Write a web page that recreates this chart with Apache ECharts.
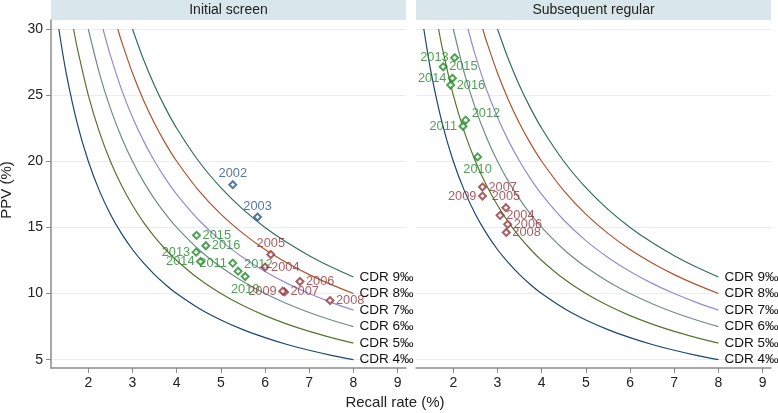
<!DOCTYPE html>
<html><head><meta charset="utf-8">
<script src="https://cdn.jsdelivr.net/npm/echarts@6/dist/echarts.min.js"></script>
<style>html,body{margin:0;padding:0;background:#fff}#c{width:778px;height:413px}</style>
</head><body><div id="c"></div>
<script>
// ---- data ----
const panelTitles = ['Initial screen', 'Subsequent regular'];
const cdrLabels = ['CDR 4‰', 'CDR 5‰', 'CDR 6‰', 'CDR 7‰', 'CDR 8‰', 'CDR 9‰'];
// iso-CDR curves: [recall %, PPV %]
const cdr4Curve = [[1.333,30],[1.5,26.67],[1.75,22.86],[2,20],[2.25,17.78],[2.5,16],[2.75,14.55],[3,13.33],[3.25,12.31],[3.5,11.43],[3.75,10.67],[4,10],[4.5,8.89],[5,8],[5.5,7.27],[6,6.67],[6.5,6.15],[7,5.71],[7.5,5.33],[8,5]];
const cdr5Curve = [[1.667,30],[1.75,28.57],[2,25],[2.25,22.22],[2.5,20],[2.75,18.18],[3,16.67],[3.25,15.38],[3.5,14.29],[3.75,13.33],[4,12.5],[4.5,11.11],[5,10],[5.5,9.09],[6,8.33],[6.5,7.69],[7,7.14],[7.5,6.67],[8,6.25]];
const cdr6Curve = [[2,30],[2.25,26.67],[2.5,24],[2.75,21.82],[3,20],[3.25,18.46],[3.5,17.14],[3.75,16],[4,15],[4.5,13.33],[5,12],[5.5,10.91],[6,10],[6.5,9.23],[7,8.57],[7.5,8],[8,7.5]];
const cdr7Curve = [[2.333,30],[2.5,28],[2.75,25.45],[3,23.33],[3.25,21.54],[3.5,20],[3.75,18.67],[4,17.5],[4.5,15.56],[5,14],[5.5,12.73],[6,11.67],[6.5,10.77],[7,10],[7.5,9.33],[8,8.75]];
const cdr8Curve = [[2.667,30],[2.75,29.09],[3,26.67],[3.25,24.62],[3.5,22.86],[3.75,21.33],[4,20],[4.5,17.78],[5,16],[5.5,14.55],[6,13.33],[6.5,12.31],[7,11.43],[7.5,10.67],[8,10]];
const cdr9Curve = [[3,30],[3.25,27.69],[3.5,25.71],[3.75,24],[4,22.5],[4.5,20],[5,18],[5.5,16.36],[6,15],[6.5,13.85],[7,12.86],[7.5,12],[8,11.25]];
const curves = [cdr4Curve, cdr5Curve, cdr6Curve, cdr7Curve, cdr8Curve, cdr9Curve];

const initYears  = ['2002','2003','2004','2005','2006','2007','2008','2009','2010','2011','2012','2013','2014','2015','2016'];
const initRecall = [5.27, 5.83, 6.00, 6.13, 6.79, 6.44, 7.47, 6.40, 5.55, 5.27, 5.39, 4.44, 4.54, 4.45, 4.66];
const initPPV    = [18.23,15.78,12.00,12.95,10.91,10.12, 9.47,10.18,11.29,12.30,11.69,13.13,12.42,14.40,13.61];

const subsYears  = ['2004','2005','2006','2007','2008','2009','2010','2011','2012','2013','2014','2015','2016'];
const subsRecall = [3.06, 3.19, 3.23, 2.66, 3.20, 2.66, 2.55, 2.22, 2.28, 2.03, 1.98, 1.77, 1.94];
const subsPPV    = [15.91,16.49,15.23,18.05,14.62,17.37,20.33,22.65,23.11,27.83,26.27,27.14,25.76];

const xTicks = [2,3,4,5,6,7,8,9];
const yTicks = [5,10,15,20,25,30];

// ---- styles ----
const FONT = 'Liberation Sans, Arial, sans-serif';
const curveColors = ['#1a476f', '#55752f', '#6e8e84', '#938dd2', '#b0532e', '#33705f'];
function yearColor(y) {
  const n = +y;
  if (n <= 2003) return '#2b5585';
  if (n <= 2009) return '#93363c';
  return '#23892a';
}
const labelPlace = { '2002':'top','2003':'top','2005':'top','2009':'left','2013':'left','2014':'left','2011':'left','2010':'bottom','2012':'upright' };
function labelFor(year) {
  const p = labelPlace[year] || 'right';
  const base = { show: true, formatter: year, color: yearColor(year), fontFamily: FONT, fontSize: 12.8 };
  if (p === 'top') return Object.assign(base, { position: 'top', distance: 0 });
  if (p === 'bottom') return Object.assign(base, { position: 'bottom', distance: 2 });
  if (p === 'left') return Object.assign(base, { position: 'left', distance: 1.5 });
  if (p === 'upright') return Object.assign(base, { position: 'right', distance: 1.5, offset: [0, -6.5] });
  return Object.assign(base, { position: 'right', distance: 1.5 });
}
function markerData(years, xs, ys) {
  return years.map((yr, i) => ({
    value: [xs[i], ys[i]], name: yr,
    itemStyle: { color: yearColor(yr), borderColor: yearColor(yr), borderWidth: 1 },
    label: labelFor(yr)
  }));
}

const gridW = 355, gridTop = 20, gridH = 348;
const gridLefts = [51, 416];
const X_MIN = 1.156, X_MAX = 9.19, Y_MIN = 4.37, Y_MAX = 30.68;
const axisGrey = '#8c8c8c';

const grids = gridLefts.map(l => ({ left: l, top: gridTop, width: gridW, height: gridH }));
const xAxes = [0, 1].map(i => ({
  type: 'value', gridIndex: i, min: X_MIN, max: X_MAX,
  axisLine: { show: true, onZero: false, lineStyle: { color: axisGrey, width: 1.5 } },
  axisTick: { show: true, length: 5, customValues: xTicks, lineStyle: { color: axisGrey } },
  axisLabel: { customValues: xTicks, color: '#222', fontFamily: FONT, fontSize: 14, margin: 8 },
  splitLine: { show: false }
}));
const yAxes = [0, 1].map(i => ({
  type: 'value', gridIndex: i, min: Y_MIN, max: Y_MAX,
  axisLine: { show: i === 0, onZero: false, lineStyle: { color: axisGrey, width: 1.5 } },
  axisTick: { show: i === 0, length: 5, customValues: yTicks, lineStyle: { color: axisGrey } },
  axisLabel: { show: i === 0, customValues: yTicks, color: '#222', fontFamily: FONT, fontSize: 14, margin: 8 },
  splitLine: { show: true, lineStyle: { color: '#e6eef1', width: 1 } }
}));

const series = [];
[0, 1].forEach(p => {
  curves.forEach((c, k) => {
    series.push({
      type: 'line', xAxisIndex: p, yAxisIndex: p, data: c,
      showSymbol: false, symbol: 'none', smooth: 0.3,
      lineStyle: { color: curveColors[k], width: 1.2 }, z: 2, silent: true,
      endLabel: { show: true, formatter: cdrLabels[k], distance: 6, color: '#111', fontFamily: FONT, fontSize: 13.5 }
    });
  });
});
series.push({
  type: 'scatter', xAxisIndex: 0, yAxisIndex: 0, symbol: 'emptyDiamond', symbolSize: 7, z: 5,
  data: markerData(initYears, initRecall, initPPV)
});
series.push({
  type: 'scatter', xAxisIndex: 1, yAxisIndex: 1, symbol: 'emptyDiamond', symbolSize: 7, z: 5,
  data: markerData(subsYears, subsRecall, subsPPV)
});

const graphic = [];
gridLefts.forEach((l, i) => {
  graphic.push({ type: 'rect', shape: { x: l, y: 0, width: gridW, height: 20 }, style: { fill: '#d9e6eb' }, z: 0 });
  graphic.push({ type: 'text', x: l + gridW / 2, y: 10, style: { text: panelTitles[i], align: 'center', verticalAlign: 'middle', font: '14px ' + FONT, fill: '#222' }, z: 1 });
});
graphic.push({ type: 'text', x: 395, y: 403, style: { text: 'Recall rate (%)', align: 'center', verticalAlign: 'middle', font: '15px ' + FONT, fill: '#222' } });
graphic.push({ type: 'text', x: 7, y: 190, rotation: Math.PI / 2, style: { text: 'PPV (%)', align: 'center', verticalAlign: 'middle', font: '15px ' + FONT, fill: '#222' } });

const chart = echarts.init(document.getElementById('c'), null, { renderer: 'canvas' });
chart.setOption({ animation: false, backgroundColor: '#fff', grid: grids, xAxis: xAxes, yAxis: yAxes, series: series, graphic: graphic });
</script></body></html>
